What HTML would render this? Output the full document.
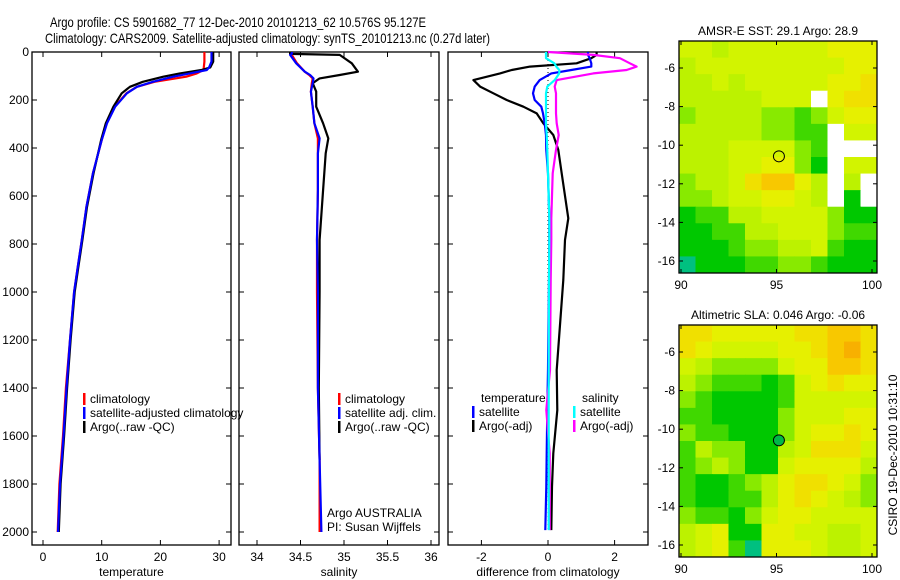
<!DOCTYPE html>
<html><head><meta charset="utf-8"><style>
body{margin:0;background:#fff;}
svg{display:block;font-family:"Liberation Sans",sans-serif;}
</style></head><body>
<svg id="c" width="900" height="580" viewBox="0 0 900 580">
<text x="50" y="27" font-size="14" textLength="376" lengthAdjust="spacingAndGlyphs">Argo profile: CS 5901682_77 12-Dec-2010 20101213_62 10.576S 95.127E</text>
<text x="45" y="43" font-size="14" textLength="445" lengthAdjust="spacingAndGlyphs">Climatology: CARS2009. Satellite-adjusted climatology: synTS_20101213.nc (0.27d later)</text>
</svg>
<script>
// ---------- data ----------
const tDepth = [0,40,64,75,89,103,124,145,172,228,297,367,506,646,786,900,1000,1200,1400,1600,1800,2000];
const tBlue  = [28.7,28.7,28.3,27.9,25.0,22.2,18.7,16.0,14.3,12.3,10.9,10.0,8.5,7.4,6.6,5.9,5.3,4.6,4.0,3.5,2.9,2.55];
const tRed   = [27.5,27.5,27.4,27.3,26.2,24.4,19.0,16.0,14.2,12.2,10.8,10.0,8.5,7.4,6.6,5.9,5.3,4.6,3.9,3.4,2.8,2.5];
const tBlack = [29.0,29.0,28.5,27.0,23.3,20.5,17.0,14.8,13.4,12.0,10.7,9.9,8.6,7.5,6.7,6.0,5.4,4.7,4.1,3.6,3.0,2.7];
const sDepth = [0,8,12,47,82,96,110,130,165,228,297,360,422,575,783,1000,1400,1700,2000];
const sBlack = [34.38,34.38,34.95,35.09,35.16,34.95,34.72,34.64,34.68,34.68,34.76,34.82,34.79,34.76,34.72,34.72,34.71,34.72,null];
const sBlue  = [34.40,34.40,34.38,34.45,34.55,34.61,34.65,34.64,34.62,34.64,34.66,34.72,34.70,34.70,34.69,34.70,34.70,34.72,34.74];
const sRed   = [34.38,34.38,34.40,34.46,34.55,34.60,34.64,34.63,34.62,34.64,34.66,34.70,34.70,34.70,34.69,34.69,34.70,34.72,34.72];
const dDepth = [0,12,26,47,61,75,89,117,144,172,200,228,256,297,346,408,506,693,783,950,1325,1492,1672,1811,1992];
const dTArgo = [1.46,1.46,1.3,0.86,-0.54,-1.09,-1.44,-2.24,-2.04,-1.64,-1.24,-0.74,-0.34,-0.14,0.16,0.31,0.41,0.61,0.51,0.46,0.26,0.28,0.16,0.12,0.1];
const dTSat  = [1.2,1.2,1.25,1.3,1.3,0.7,0.1,-0.25,-0.4,-0.45,-0.4,-0.2,-0.15,-0.1,-0.06,-0.05,0.0,0.04,0.04,0.03,0.0,-0.02,-0.04,-0.05,-0.08];
const dSArgo = [0.0,1.36,2.16,2.46,2.66,2.36,1.36,0.26,0.2,0.24,0.24,0.24,0.24,0.26,0.32,0.24,0.14,0.1,0.1,0.08,0.06,-0.05,0.05,0.05,0.05];
const dSSat  = [-0.06,-0.06,-0.06,0.19,0.25,0.34,0.34,0.2,-0.02,-0.06,-0.06,-0.06,-0.06,-0.06,-0.04,-0.02,0.0,0.04,0.04,0.03,0.02,0.02,0.02,0.02,0.02];
const mapSST = ["554555555666","455555555566","445455555667","44444555W677","344443323566","444443322W55","444555532WWW","444556631W55","344578864W4W","334556654W1W","122445555311","112244555322","111233445211","011122332111"];
const mapSLA = ["776666677887","765555667897","543333566887","432221256766","321111255555","221111355566","322111356676","243311457775","234311566664","211234677653","211224676543","322135665555","456116655445","456206665445"];
const palette = ["#00c080","#00c800","#40d800","#88ea00","#bcf200","#d2f400","#e6f000","#f0e000","#f8c800","#f8b000"];
const depthTicks = [0,200,400,600,800,1000,1200,1400,1600,1800,2000];
const tTicks = [0,10,20,30];
const sTicks = [34,34.5,35,35.5,36];
const sTickLabels = ["34","34.5","35","35.5","36"];
const dTicks = [-2,0,2];
const lonTicks = [90,95,100];
const latTicks = [-6,-8,-10,-12,-14,-16];

// ---------- helpers ----------
const svg = document.getElementById('c');
const NS = 'http://www.w3.org/2000/svg';
function mk(tag, attrs, parent){const e=document.createElementNS(NS,tag);for(const k in attrs)e.setAttribute(k,attrs[k]);(parent||svg).appendChild(e);return e;}
const yD = d => 52 + d*0.24;
const TOP=52, BOT=545;

function panel(x0,x1,xs,ticks,labels,title,name,showY){
  const g = mk('g',{});
  
  
  const r = mk('rect',{x:x0,y:TOP,width:x1-x0,height:BOT-TOP,fill:'none',stroke:'#000','stroke-width':1.3},g);
  
  
  ticks.forEach((t,i)=>{
    const x = xs(t);
    mk('line',{x1:x,x2:x,y1:BOT,y2:BOT-5,stroke:'#000'},g);
    mk('line',{x1:x,x2:x,y1:TOP,y2:TOP+5,stroke:'#000'},g);
    const tl = mk('text',{x:x,y:BOT+16,'font-size':12,'text-anchor':'middle'},g);
    tl.textContent = labels[i];
    
    
  });
  depthTicks.forEach(d=>{
    const y=yD(d);
    mk('line',{x1:x0,x2:x0+5,y1:y,y2:y,stroke:'#000'},g);
    mk('line',{x1:x1,x2:x1-5,y1:y,y2:y,stroke:'#000'},g);
    if(showY){
      const tl = mk('text',{x:x0-3,y:y+4,'font-size':12,'text-anchor':'end'},g);
      tl.textContent = d;
      
      
    }
  });
  const xt = mk('text',{x:(x0+x1)/2,y:576,'font-size':12,'text-anchor':'middle'},g);
  xt.textContent = title;
  
  
}
function line(depths, vals, xs, color, name, dash){
  let pts=[];
  for(let i=0;i<depths.length;i++){ if(vals[i]===null) continue; pts.push(xs(vals[i]).toFixed(1)+','+yD(depths[i]).toFixed(1)); }
  const p = mk('polyline',{points:pts.join(' '),fill:'none',stroke:color,'stroke-width':dash?1:2.2,'stroke-linejoin':'round'});
  if(dash) p.setAttribute('stroke-dasharray',dash);
  
  
}
function legend(x,y,color,label,name){
  const g = mk('g',{});
  
  
  if(color) mk('rect',{x:x,y:y-10,width:2.5,height:12,fill:color},g);
  const t = mk('text',{x:x+7,y:y,'font-size':12},g);
  t.textContent = label;
}

// ---------- profile panels ----------
const xT = v => 43 + v*5.87;
const xS = v => 257 + (v-34)*87;
const xDf = v => 548 + v*33.3;

panel(32,231,xT,tTicks,tTicks.map(String),'temperature','temperature-panel',true);
line(tDepth,tRed,xT,'#ff0000','temp-climatology-line');
line(tDepth,tBlack,xT,'#000000','temp-argo-line');
line(tDepth,tBlue,xT,'#0000ff','temp-satellite-line');
legend(83,403,'#ff0000','climatology','legend-climatology');
legend(83,417,'#0000ff','satellite-adjusted climatology','legend-satellite-adjusted');
legend(83,431,'#000000','Argo(..raw -QC)','legend-argo');

panel(239,439,xS,sTicks,sTickLabels,'salinity','salinity-panel',false);
line(sDepth,sRed,xS,'#ff0000','sal-climatology-line');
line(sDepth,sBlack,xS,'#000000','sal-argo-line');
line(sDepth,sBlue,xS,'#0000ff','sal-satellite-line');
legend(338,403,'#ff0000','climatology','legend-sal-climatology');
legend(338,417,'#0000ff','satellite adj. clim.','legend-sal-satellite');
legend(338,431,'#000000','Argo(..raw -QC)','legend-sal-argo');
legend(320,517,null,'Argo AUSTRALIA','argo-australia-note');
legend(320,531,null,'PI: Susan Wijffels','pi-note');

panel(448,648,xDf,dTicks,dTicks.map(String),'difference from climatology','difference-panel',false);
line([0,2000],[0,0],xDf,'#000','zero-line','1,3');
line(dDepth,dTArgo,xDf,'#000000','diff-temp-argo-line');
line(dDepth,dTSat,xDf,'#0000ff','diff-temp-satellite-line');
line(dDepth,dSArgo,xDf,'#ff00ff','diff-sal-argo-line');
line(dDepth,dSSat,xDf,'#00ffff','diff-sal-satellite-line');
legend(474,402,null,'temperature','legend-diff-temperature');
legend(472,416,'#0000ff','satellite','legend-diff-temp-satellite');
legend(472,430,'#000000','Argo(-adj)','legend-diff-temp-argo');
legend(575,402,null,'salinity','legend-diff-salinity');
legend(573,416,'#00ffff','satellite','legend-diff-sal-satellite');
legend(573,430,'#ff00ff','Argo(-adj)','legend-diff-sal-argo');

// ---------- maps ----------
function map(top,bot,grid,title,name,circleFill){
  const L=679,R=877;
  const g = mk('g',{});
  
  
  const rows=grid.length, cols=grid[0].length;
  const cw=(R-L)/cols, ch=(bot-top)/rows;
  grid.forEach((row,ri)=>{
    [...row].forEach((c,ci)=>{
      const cell = mk('rect',{x:L+ci*cw,y:top+ri*ch,width:cw+0.5,height:ch+0.5,fill:c==='W'?'#ffffff':palette[+c]},g);
      
      
    });
  });
  mk('rect',{x:L,y:top,width:R-L,height:bot-top,fill:'none',stroke:'#000','stroke-width':1.3},g);
  const yLat = lat => top + 27 + (-6 - lat)*19.3;
  const xLon = lon => 681 + (lon-90)*19.1;
  lonTicks.forEach(lon=>{
    const x=xLon(lon);
    mk('line',{x1:x,x2:x,y1:bot,y2:bot-4,stroke:'#000'},g);
    mk('line',{x1:x,x2:x,y1:top,y2:top+4,stroke:'#000'},g);
    const t=mk('text',{x:x,y:bot+16,'font-size':12,'text-anchor':'middle'},g);
    t.textContent=lon;
    
    
  });
  latTicks.forEach(lat=>{
    const y=yLat(lat);
    mk('line',{x1:L,x2:L+4,y1:y,y2:y,stroke:'#000'},g);
    mk('line',{x1:R,x2:R-4,y1:y,y2:y,stroke:'#000'},g);
    const t=mk('text',{x:L-4,y:y+4,'font-size':12,'text-anchor':'end'},g);
    t.textContent=lat;
    
    
  });
  const tt=mk('text',{x:778,y:top-6,'font-size':12,'text-anchor':'middle'},g);
  tt.textContent=title;
  
  
  const c=mk('circle',{cx:xLon(95.127),cy:yLat(-10.576),r:5.5,fill:circleFill,stroke:'#000','stroke-width':1},g);
  
  
}
map(41,273,mapSST,'AMSR-E SST: 29.1 Argo: 28.9','sst-map','none');
map(325,557,mapSLA,'Altimetric SLA: 0.046 Argo: -0.06','sla-map','#00b848');

const st = mk('text',{x:0,y:0,'font-size':12,'text-anchor':'middle',transform:'translate(897,455) rotate(-90)'});
st.textContent='CSIRO 19-Dec-2010 10:31:10';


</script>
</body></html>
